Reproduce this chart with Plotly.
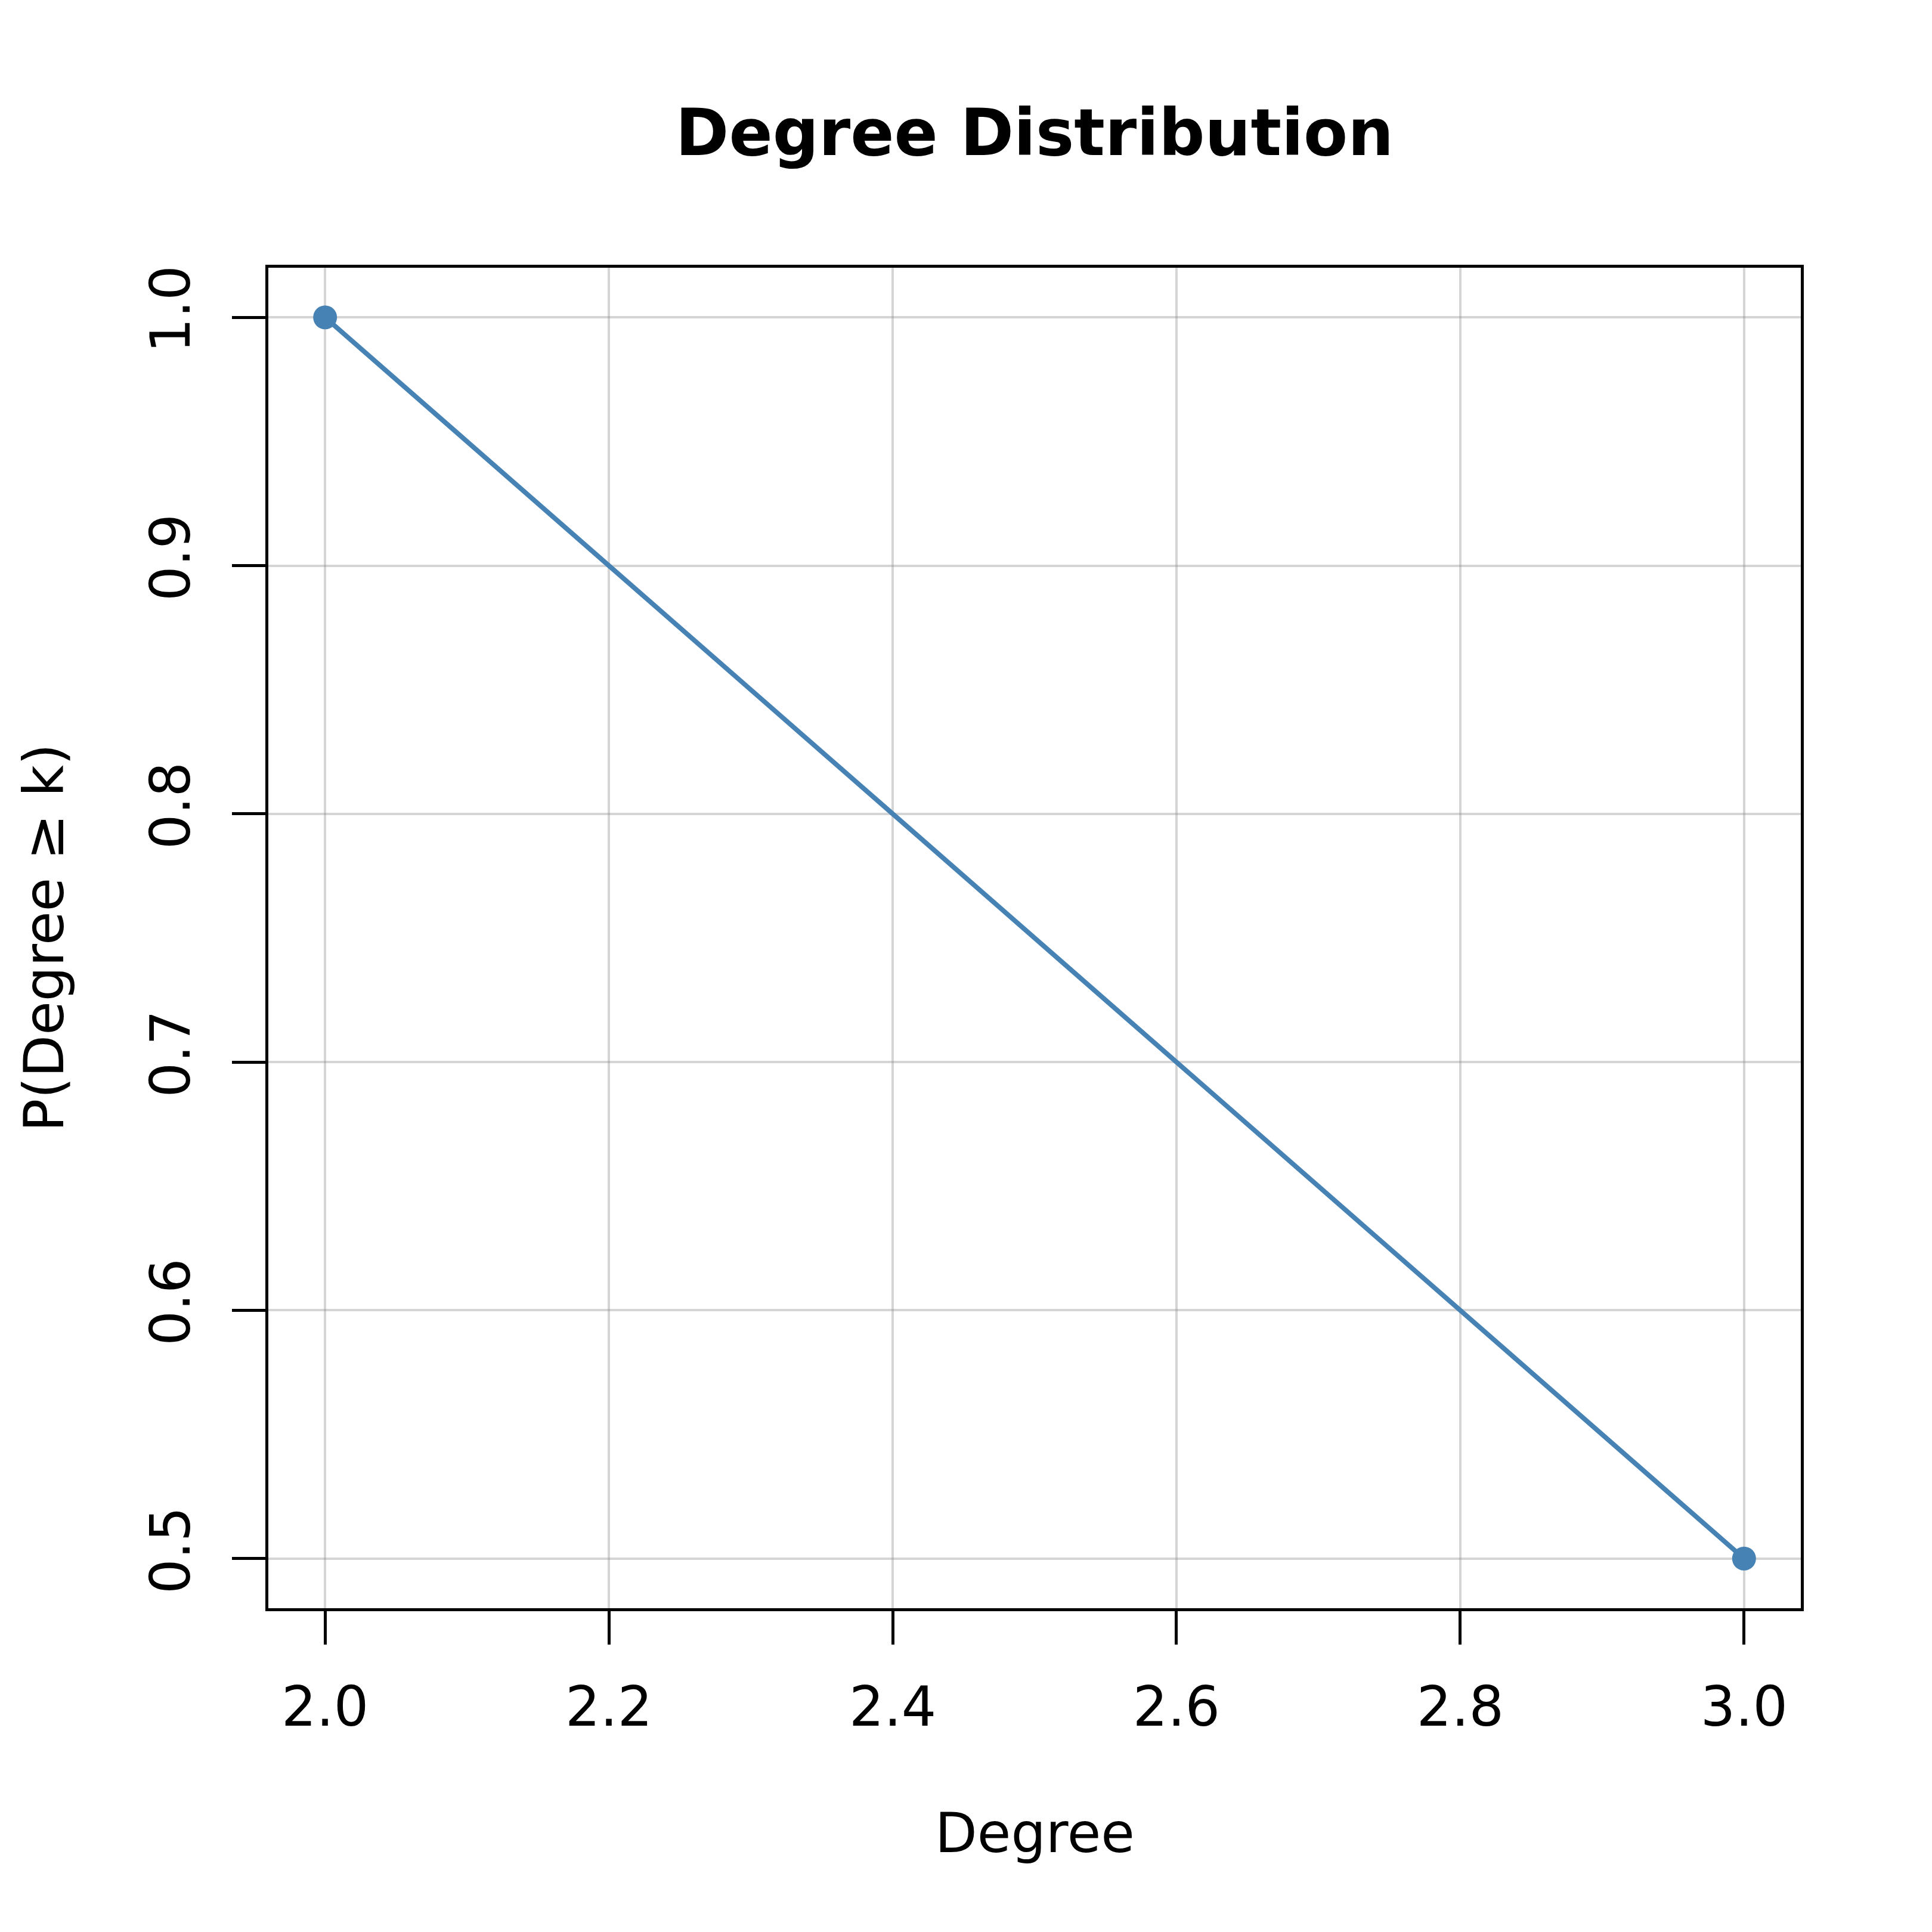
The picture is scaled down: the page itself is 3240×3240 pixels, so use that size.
import plotly.graph_objects as go

degree = [2, 3]
prob = [1.0, 0.5]
x_ticks = [2.0, 2.2, 2.4, 2.6, 2.8, 3.0]
x_tick_labels = ["2.0", "2.2", "2.4", "2.6", "2.8", "3.0"]
y_ticks = [0.5, 0.6, 0.7, 0.8, 0.9, 1.0]
y_tick_labels = ["0.5", "0.6", "0.7", "0.8", "0.9", "1.0"]

title_text = "Degree Distribution"
x_title = "Degree"
y_title = "P(Degree ≥ k)"

FONT = "DejaVu Sans"
COLOR = "#4682B4"
GRID = "rgba(128,128,128,0.33)"

fig = go.Figure()
fig.add_trace(go.Scatter(
    x=degree, y=prob, mode="lines",
    line=dict(color=COLOR, width=8),
    showlegend=False, hoverinfo="skip",
))
fig.add_trace(go.Scatter(
    x=degree, y=prob, mode="markers",
    marker=dict(color=COLOR, size=40, line=dict(width=0)),
    showlegend=False,
))

axis_common = dict(
    showgrid=True, gridcolor=GRID, gridwidth=4,
    zeroline=False,
    showline=True, linecolor="black", linewidth=5, mirror=True,
    ticks="outside", ticklen=56, tickwidth=5, tickcolor="black",
    tickfont=dict(family=FONT, size=92, color="black"),
)

fig.update_layout(
    width=3240, height=3240,
    paper_bgcolor="white", plot_bgcolor="white",
    margin=dict(l=442, r=228, t=441, b=551, autoexpand=False),
    font=dict(family=FONT, color="black"),
    title=dict(
        text="<b>" + title_text + "</b>",
        font=dict(family=FONT, size=108, color="black"),
        x=(442 + 3012) / 2 / 3240, xanchor="center",
        y=1 - 214 / 3240, yanchor="middle",
    ),
    xaxis=dict(
        range=[1.96, 3.04], tickvals=x_ticks, ticktext=x_tick_labels,
        ticklabelstandoff=26,
        **axis_common,
    ),
    yaxis=dict(
        range=[0.48, 1.02], tickvals=y_ticks, ticktext=y_tick_labels,
        tickangle=-90, ticklabelstandoff=34,
        **axis_common,
    ),
    annotations=[
        dict(text=x_title, xref="paper", yref="paper",
             x=0.5, y=-(3066 - 2689) / (2689 - 441),
             xanchor="center", yanchor="middle", showarrow=False,
             font=dict(family=FONT, size=92, color="black")),
        dict(text=y_title, xref="paper", yref="paper",
             x=-(442 - 66) / (3012 - 442), y=0.5, textangle=-90,
             xanchor="center", yanchor="middle", showarrow=False,
             font=dict(family=FONT, size=92, color="black")),
    ],
)

fig.write_html("out.html")
